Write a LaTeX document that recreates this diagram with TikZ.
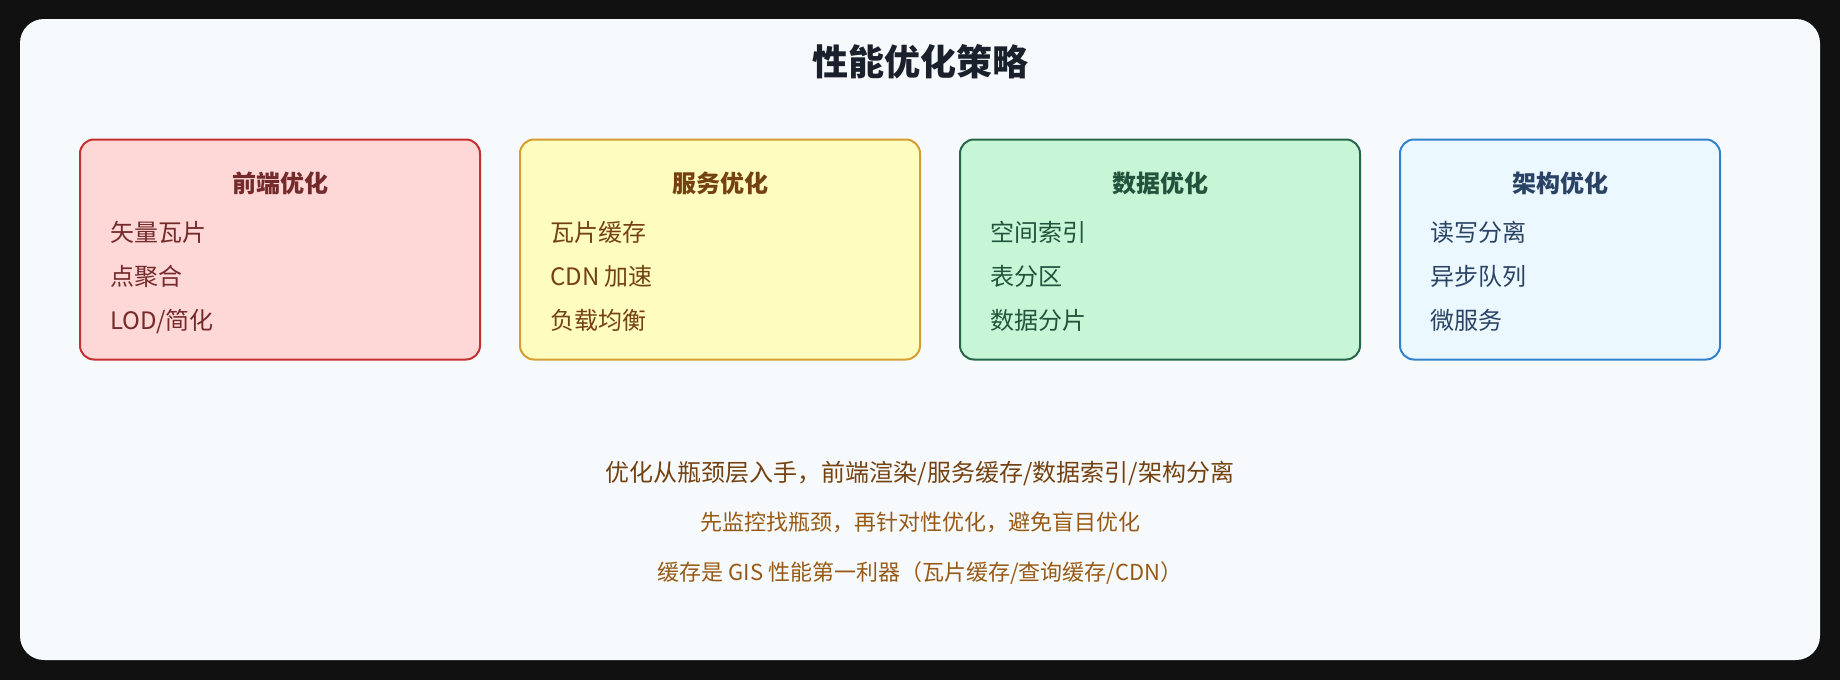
\documentclass[tikz,border=0pt]{standalone}
\usepackage{fontspec}
\setmainfont{Noto Sans CJK SC}
\definecolor{pagebg}{HTML}{111111}
\definecolor{cardbg}{HTML}{F7FAFC}
\definecolor{titlecol}{HTML}{1A202C}
\definecolor{redfill}{HTML}{FED7D7}
\definecolor{redline}{HTML}{C53030}
\definecolor{redtext}{HTML}{742A2A}
\definecolor{yelfill}{HTML}{FEFCBF}
\definecolor{yelline}{HTML}{D69E2E}
\definecolor{yeltext}{HTML}{744210}
\definecolor{grnfill}{HTML}{C6F6D5}
\definecolor{grnline}{HTML}{276749}
\definecolor{grntext}{HTML}{22543D}
\definecolor{blufill}{HTML}{EBF8FF}
\definecolor{bluline}{HTML}{3182CE}
\definecolor{blutext}{HTML}{2A4365}
\definecolor{notedark}{HTML}{744210}
\definecolor{notelight}{HTML}{975A16}
\tikzset{
	groupbox/.style={draw, line width=2pt, rounded corners=14pt, minimum height=220pt, inner sep=0pt},
	grouptitle/.style={anchor=base, font=\fontsize{24}{28}\selectfont\bfseries},
	groupitem/.style={anchor=base west, font=\fontsize{24}{28}\selectfont, inner sep=0pt},
	note/.style={anchor=base, font=\fontsize{22}{26}\selectfont}
}
\begin{document}
\begin{tikzpicture}[x=1pt, y=-1pt]
				% page and card
				\fill[pagebg] (0,0) rectangle (1840,680);
				\useasboundingbox (0,0) rectangle (1840,680);
				\fill[cardbg, rounded corners=24pt] (20,19) rectangle (1820,660);
				\node[anchor=base, text=titlecol, font=\fontsize{36}{42}\selectfont\bfseries] (title) at (920,75) {性能优化策略};
				
				%front end
				\node[groupbox, minimum width=400pt, draw=redline, fill=redfill] (front) at (280,249.5) {};
				\node[grouptitle, text=redtext] (front_title) at (280,192) {前端优化};
				\node[groupitem, text=redtext] (front_a) at (110,241) {矢量瓦片};
				\node[groupitem, text=redtext] (front_b) at (110,285) {点聚合};
				\node[groupitem, text=redtext] (front_c) at (110,329) {LOD/简化};
				
				%service
				\node[groupbox, minimum width=400pt, draw=yelline, fill=yelfill] (serv) at (720,249.5) {};
				\node[grouptitle, text=yeltext] (serv_title) at (720,192) {服务优化};
				\node[groupitem, text=yeltext] (serv_a) at (550,241) {瓦片缓存};
				\node[groupitem, text=yeltext] (serv_b) at (550,285) {CDN 加速};
				\node[groupitem, text=yeltext] (serv_c) at (550,329) {负载均衡};
				
				%data
				\node[groupbox, minimum width=400pt, draw=grnline, fill=grnfill] (data) at (1160,249.5) {};
				\node[grouptitle, text=grntext] (data_title) at (1160,192) {数据优化};
				\node[groupitem, text=grntext] (data_a) at (990,241) {空间索引};
				\node[groupitem, text=grntext] (data_b) at (990,285) {表分区};
				\node[groupitem, text=grntext] (data_c) at (990,329) {数据分片};
				
				%architecture
				\node[groupbox, minimum width=320pt, draw=bluline, fill=blufill] (arch) at (1560,249.5) {};
				\node[grouptitle, text=blutext] (arch_title) at (1560,192) {架构优化};
				\node[groupitem, text=blutext] (arch_a) at (1430,241) {读写分离};
				\node[groupitem, text=blutext] (arch_b) at (1430,285) {异步队列};
				\node[groupitem, text=blutext] (arch_c) at (1430,329) {微服务};
				
				%notes
				\node[note, text=notedark, font=\fontsize{24}{28}\selectfont] (note1) at (920,481) {优化从瓶颈层入手，前端渲染/服务缓存/数据索引/架构分离};
				\node[note, text=notelight] (note2) at (920,530) {先监控找瓶颈，再针对性优化，避免盲目优化};
				\node[note, text=notelight] (note3) at (920,580) {缓存是 GIS 性能第一利器（瓦片缓存/查询缓存/CDN）};
			\end{tikzpicture}
\end{document}
